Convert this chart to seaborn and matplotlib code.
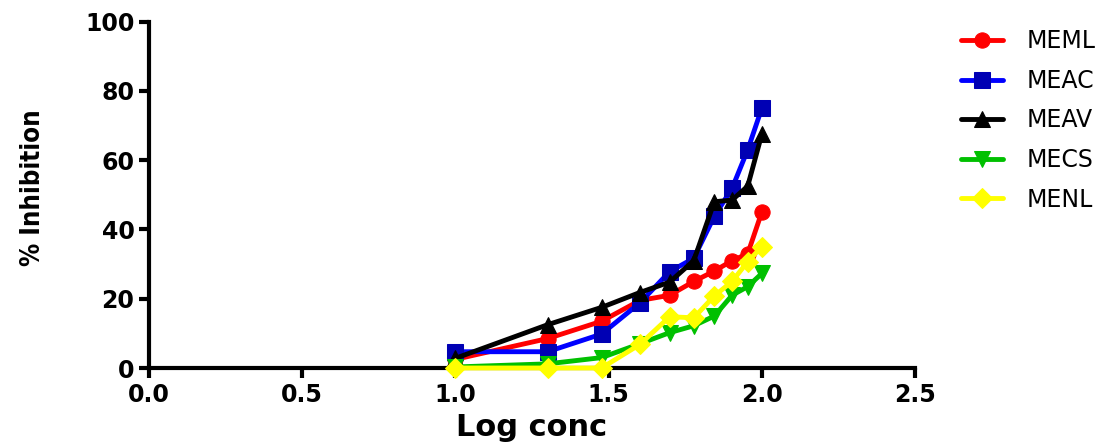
import pandas as pd
import matplotlib
matplotlib.use('Agg')
import matplotlib.pyplot as plt
from matplotlib import font_manager
import seaborn as sns

# log10 of concentration (10..100)
log_conc = [1.0, 1.301, 1.477, 1.602, 1.699, 1.778, 1.845, 1.903, 1.954, 2.0]

meml = [2.5, 8.5, 13.5, 19.5, 21, 25, 28, 31, 33, 45]
meac = [4.7, 4.7, 9.8, 18.8, 27.8, 31.7, 43.8, 51.9, 63, 75]
meav = [2.8, 12.5, 17.5, 21.8, 24.8, 31, 48, 48.5, 52.5, 67.5]
mecs = [0.3, 1.2, 3, 7, 10.2, 12.2, 15, 21, 23.5, 27.3]
menl = [0, 0, 0, 6.8, 14.8, 14.5, 20.8, 25, 30.7, 35]

names = ['MEML', 'MEAC', 'MEAV', 'MECS', 'MENL']
values = [meml, meac, meav, mecs, menl]

# line colour, marker, marker face colour
styles = {
    'MEML': ('#ff0000', 'o', '#ff0000'),
    'MEAC': ('#0000ff', 's', '#0000b4'),
    'MEAV': ('#000000', '^', '#000000'),
    'MECS': ('#00c000', 'v', '#00c000'),
    'MENL': ('#ffff00', 'D', '#ffff00'),
}

df = pd.DataFrame({
    'Log conc': log_conc * len(names),
    '% Inhibition': [v for vals in values for v in vals],
    'Extract': [n for n in names for _ in log_conc],
})

sns.set_style('ticks')
plt.rcParams['font.family'] = ['DejaVu Sans']
for key in ['text.color', 'axes.labelcolor', 'xtick.color', 'ytick.color']:
    plt.rcParams[key] = 'black'

# condensed bold font for the rotated y label, if one is installed
condensed = [f for f in font_manager.fontManager.ttflist
             if f.stretch in ('condensed', 'semi-condensed', 500, 400)
             and 'Condensed' in f.fname and 'Bold' in f.fname]
if condensed:
    ylab_kw = dict(family=[condensed[0].name], fontstretch=condensed[0].stretch,
                   fontsize=18.5)
else:
    ylab_kw = dict(family=['Liberation Sans', 'DejaVu Sans'], fontsize=20)

fig = plt.figure(figsize=(11.18, 4.42), dpi=100)
ax = fig.add_axes([149 / 1118, 1 - 368 / 442, 766 / 1118, 346.3 / 442])

for i, name in enumerate(names):
    color, marker, face = styles[name]
    sub = df[df['Extract'] == name]
    sns.lineplot(data=sub, x='Log conc', y='% Inhibition', ax=ax, color=color,
                 marker=marker, markersize=11 if marker != 'D' else 10,
                 markerfacecolor=face, markeredgecolor=face, linewidth=3.5,
                 label=name, clip_on=False, zorder=3 + i)

ax.set_xlim(0, 2.5)
ax.set_ylim(0, 100)
ax.set_xticks([0.0, 0.5, 1.0, 1.5, 2.0, 2.5])
ax.set_xticklabels(['0.0', '0.5', '1.0', '1.5', '2.0', '2.5'])
ax.set_yticks([0, 20, 40, 60, 80, 100])

for side in ['top', 'right']:
    ax.spines[side].set_visible(False)
for side in ['left', 'bottom']:
    ax.spines[side].set_linewidth(3)
    ax.spines[side].set_color('black')

ax.tick_params(width=3, length=7, direction='out', labelsize=17, colors='black')
for lab in ax.get_xticklabels() + ax.get_yticklabels():
    lab.set_fontweight('bold')

ax.set_xlabel('Log conc', fontsize=22, fontweight='bold')
ax.xaxis.set_label_coords(0.5, -0.13)
ax.set_ylabel('% Inhibition', fontweight='bold', **ylab_kw)
ax.yaxis.set_label_coords(-0.135, 0.52)

leg = ax.legend(loc='upper left', bbox_to_anchor=(1.06, 0.978), frameon=False,
                fontsize=17, handlelength=1.78, handletextpad=1.0,
                labelspacing=0.66, borderaxespad=0, borderpad=0)
for t in leg.get_texts():
    t.set_color('black')

fig.savefig('out.png', dpi=100)
